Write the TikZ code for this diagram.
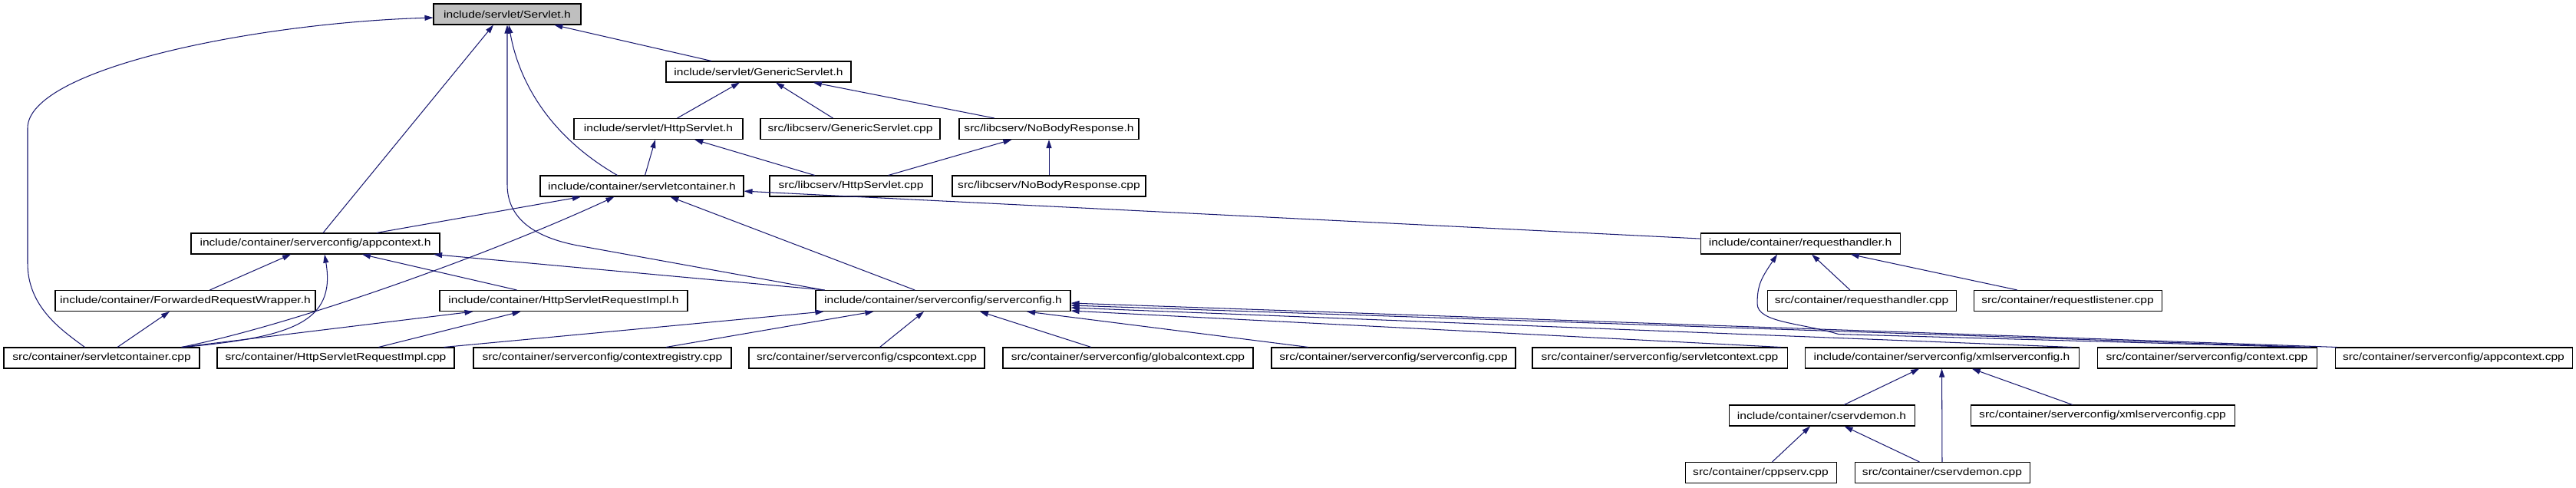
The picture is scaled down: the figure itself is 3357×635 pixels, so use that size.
\documentclass[tikz,border=0pt]{standalone}
\usepackage{fontspec}
\newfontfamily\filefont{Liberation Sans}[FakeStretch=1.2]
\usetikzlibrary{arrows.meta,calc}
\definecolor{navyedge}{RGB}{25,25,112}
\definecolor{focusgrey}{RGB}{191,191,191}

\begin{document}
\begin{tikzpicture}[x=0.25pt, y=-0.25pt, {Triangle[length=2.75pt, width=1.75pt]}-]
   \useasboundingbox (0,0) rectangle (3357,635);
   \tikzstyle{file}=[draw=black, line width=0.27pt, fill=white, inner sep=0pt, minimum height=6.75pt, font=\filefont\fontsize{3.25pt}{3.9pt}\selectfont]
   \tikzstyle{incl}=[color=navyedge, line width=0.26pt]
   \node[file, fill=focusgrey, minimum width=48pt] (servlet) at (661,18.5) {include/servlet/Servlet.h};
   \foreach \id/\cx/\cy/\bw/\fname in {
       genh/988.5/93.5/241/{include/servlet/GenericServlet.h},
       httph/858/168/220/{include/servlet/HttpServlet.h},
       gencpp/1108/168/234/{src/libcserv/GenericServlet.cpp},
       nobodyh/1367/168/234/{src/libcserv/NoBodyResponse.h},
       conth/836.5/242.5/265/{include/container/servletcontainer.h},
       httpcpp/1109/242.5/212/{src/libcserv/HttpServlet.cpp},
       nobodycpp/1367/242.5/252/{src/libcserv/NoBodyResponse.cpp},
       appctxh/411/317.5/324/{include/container/serverconfig/appcontext.h},
       rhh/2346/317.5/260/{include/container/requesthandler.h},
       fwdh/241.5/392/339/{include/container/ForwardedRequestWrapper.h},
       reqimplh/734.5/392/323/{include/container/HttpServletRequestImpl.h},
       cfgh/1229/392/332/{include/container/serverconfig/serverconfig.h},
       rhcpp/2426/392/246/{src/container/requesthandler.cpp},
       rlcpp/2694.5/392/245/{src/container/requestlistener.cpp},
       contcpp/132.5/466.5/255/{src/container/servletcontainer.cpp},
       reqimplcpp/437.5/466.5/309/{src/container/HttpServletRequestImpl.cpp},
       regcpp/785/466.5/336/{src/container/serverconfig/contextregistry.cpp},
       cspcpp/1129.5/466.5/307/{src/container/serverconfig/cspcontext.cpp},
       globcpp/1470/466.5/326/{src/container/serverconfig/globalcontext.cpp},
       cfgcpp/1816/466.5/318/{src/container/serverconfig/serverconfig.cpp},
       sctxcpp/2163/466.5/332/{src/container/serverconfig/servletcontext.cpp},
       xmlh/2530.5/466.5/357/{include/container/serverconfig/xmlserverconfig.h},
       ctxcpp/2876/466.5/286/{src/container/serverconfig/context.cpp},
       appctxcpp/3197.5/466.5/309/{src/container/serverconfig/appcontext.cpp},
       demonh/2374/541.5/242/{include/container/cservdemon.h},
       xmlcpp/2740/541.5/344/{src/container/serverconfig/xmlserverconfig.cpp},
       cppservcpp/2294.5/616/197/{src/container/cppserv.cpp},
       demoncpp/2531/616/228/{src/container/cservdemon.cpp}} {
       \node[file, minimum width=\bw*0.25pt] (\id) at (\cx,\cy) {\fname};
   }
   % straight include edges, head at the included file
   \foreach \top/\low in {servlet/genh, genh/httph, genh/gencpp, genh/nobodyh,
       httph/conth, httph/httpcpp, nobodyh/httpcpp, nobodyh/nobodycpp,
       conth/rhh, conth/cfgh, conth/appctxh, appctxh/fwdh, appctxh/reqimplh,
       appctxh/cfgh, fwdh/contcpp, reqimplh/reqimplcpp, rhh/rhcpp, rhh/rlcpp,
       xmlh/demonh, xmlh/demoncpp, xmlh/xmlcpp, demonh/cppservcpp, demonh/demoncpp} {
        \path[incl] (\top) edge (\low);
   }
    \path[incl] ($(servlet.south)+(-18,0)$) edge ($(appctxh.north)+(10,0)$);
    \path[incl] ($(reqimplh.south)+(-118,0)$) edge ($(contcpp.north)+(104,0)$);
    \path[incl] ($(cfgh.south west)+(11,0)$) edge ($(reqimplcpp.north)+(141,0)$);
    \path[incl] ($(cfgh.south west)+(76,0)$) edge ($(regcpp.north)+(83,0)$);
    \path[incl] ($(cfgh.south)+(-25,0)$) edge ($(cspcpp.north)+(17,0)$);
    \path[incl] ($(cfgh.south)+(48,0)$) edge ($(globcpp.north)+(-48,0)$);
    \path[incl] ($(cfgh.south)+(109,0)$) edge ($(cfgcpp.north)+(-111,0)$);
    \path[incl] ($(cfgh.south east)+(0,-1)$) edge ($(sctxcpp.north east)+(-9,0)$);
    \path[incl] ($(cfgh.east)+(0,9)$) edge ($(xmlh.north east)+(-10,0)$);
    \path[incl] ($(cfgh.east)+(0,6)$) edge ($(ctxcpp.north east)+(-8,0)$);
    \path[incl] ($(cfgh.east)+(0,3)$) edge ($(appctxcpp.north west)+(3,0)$);
   % routed edges
    \draw[incl] ($(servlet.west)+(0,4.5)$) .. controls (330,30) and (36,90) .. (36,167) -- (36,343)
        .. controls (36,400) and (80,430) .. ($(contcpp.north)+(-22,0)$);
    \draw[incl] (servlet.south) -- ++(0,208) .. controls +(0,50) and +(-50,-9) .. ++(95,80)
        -- ($(cfgh.north west)+(11,0)$);
    \draw[incl] ($(servlet.south)+(2,0)$) .. controls +(14,78) and +(-85,-49) .. ($(conth.north)+(-32,0)$);
    \draw[incl] ($(conth.south)+(-36,0)$) .. controls +(-160,74) and +(150,-30) .. ($(contcpp.north)+(104,0)$);
    \draw[incl] ($(appctxh.south)+(12,0)$) .. controls +(15,89) and +(141,-13) .. ($(contcpp.north)+(106,0)$);
    \draw[incl] ($(rhh.south)+(-30,0)$) .. controls +(-20,30) and +(0,-25) .. ++(-26,64)
        .. controls +(0,25) and +(-50,-15) .. ++(106,40) -- ($(ctxcpp.north east)+(-20,0)$);
\end{tikzpicture}
\end{document}
